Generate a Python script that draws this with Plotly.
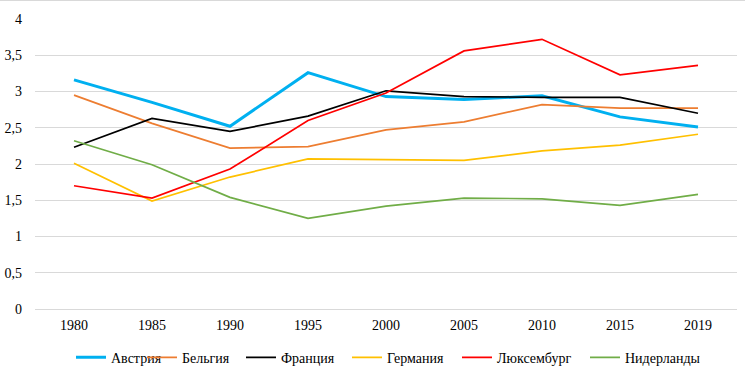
import plotly.graph_objects as go

years = ["1980", "1985", "1990", "1995", "2000", "2005", "2010", "2015", "2019"]
austria = [3.16, 2.85, 2.52, 3.26, 2.93, 2.89, 2.94, 2.65, 2.51]
belgium = [2.95, 2.56, 2.22, 2.24, 2.47, 2.58, 2.82, 2.77, 2.77]
france = [2.23, 2.63, 2.45, 2.66, 3.01, 2.93, 2.92, 2.92, 2.70]
germany = [2.01, 1.49, 1.82, 2.07, 2.06, 2.05, 2.18, 2.26, 2.41]
luxembourg = [1.70, 1.53, 1.93, 2.60, 2.98, 3.56, 3.72, 3.23, 3.36]
netherlands = [2.32, 1.99, 1.54, 1.25, 1.42, 1.53, 1.52, 1.43, 1.58]
y_ticks = [0, 0.5, 1, 1.5, 2, 2.5, 3, 3.5, 4]

FONT = "Liberation Serif"
W, H = 745, 381
ML, MR, MT, MB = 35, 8, 19, 72
PW = W - ML - MR

series = [
    ("Австрия", austria, "#00B0F0", 3),
    ("Бельгия", belgium, "#ED7D31", 1.7),
    ("Франция", france, "#000000", 1.7),
    ("Германия", germany, "#FFC000", 1.7),
    ("Люксембург", luxembourg, "#FF0000", 1.7),
    ("Нидерланды", netherlands, "#70AD47", 1.7),
]
# legend entry left edges (pixels) for separate legends
legend_px = [79, 150, 249, 355, 465, 593]

fig = go.Figure()
layout_legends = {}
for i, (name, vals, color, w) in enumerate(series):
    lname = f"legend{i + 2}"
    fig.add_trace(go.Scatter(x=years, y=vals, name=name, mode="lines",
                             line=dict(color=color, width=w), legend=lname))
    layout_legends[lname] = dict(
        orientation="h", xref="container", x=(legend_px[i] - 8) / W, xanchor="left",
        yref="container", y=1 - 357.7 / H, yanchor="middle",
        font=dict(family=FONT, size=14), bgcolor="rgba(0,0,0,0)")

fig.update_layout(
    width=W, height=H,
    margin=dict(l=ML, r=MR, t=MT, b=MB, autoexpand=False),
    paper_bgcolor="white", plot_bgcolor="white",
    font=dict(family=FONT, size=14, color="#000"),
    separators=",.",
    showlegend=True,
    xaxis=dict(type="category", range=[-0.5, 8.5], showgrid=False, zeroline=False,
               showline=False, ticks="", tickfont=dict(family=FONT, size=14),
               ticklabelstandoff=6, automargin=False),
    yaxis=dict(range=[0, 4], tickvals=y_ticks, showgrid=True, gridcolor="#D9D9D9",
               gridwidth=1.3, zeroline=True, zerolinecolor="#D9D9D9", zerolinewidth=1.3,
               showline=False, ticks="", automargin=False,
               tickfont=dict(family=FONT, size=14), ticklabelstandoff=12),
    shapes=[dict(type="line", xref="paper", yref="paper", x0=-ML / PW, x1=1 + MR / PW,
                 y0=1 + (MT - 0.5) / 290, y1=1 + (MT - 0.5) / 290,
                 line=dict(color="#D9D9D9", width=1))],
    **layout_legends,
)

fig.write_html("out.html", config={"displayModeBar": False},
               post_script="document.body.style.margin='0';")
